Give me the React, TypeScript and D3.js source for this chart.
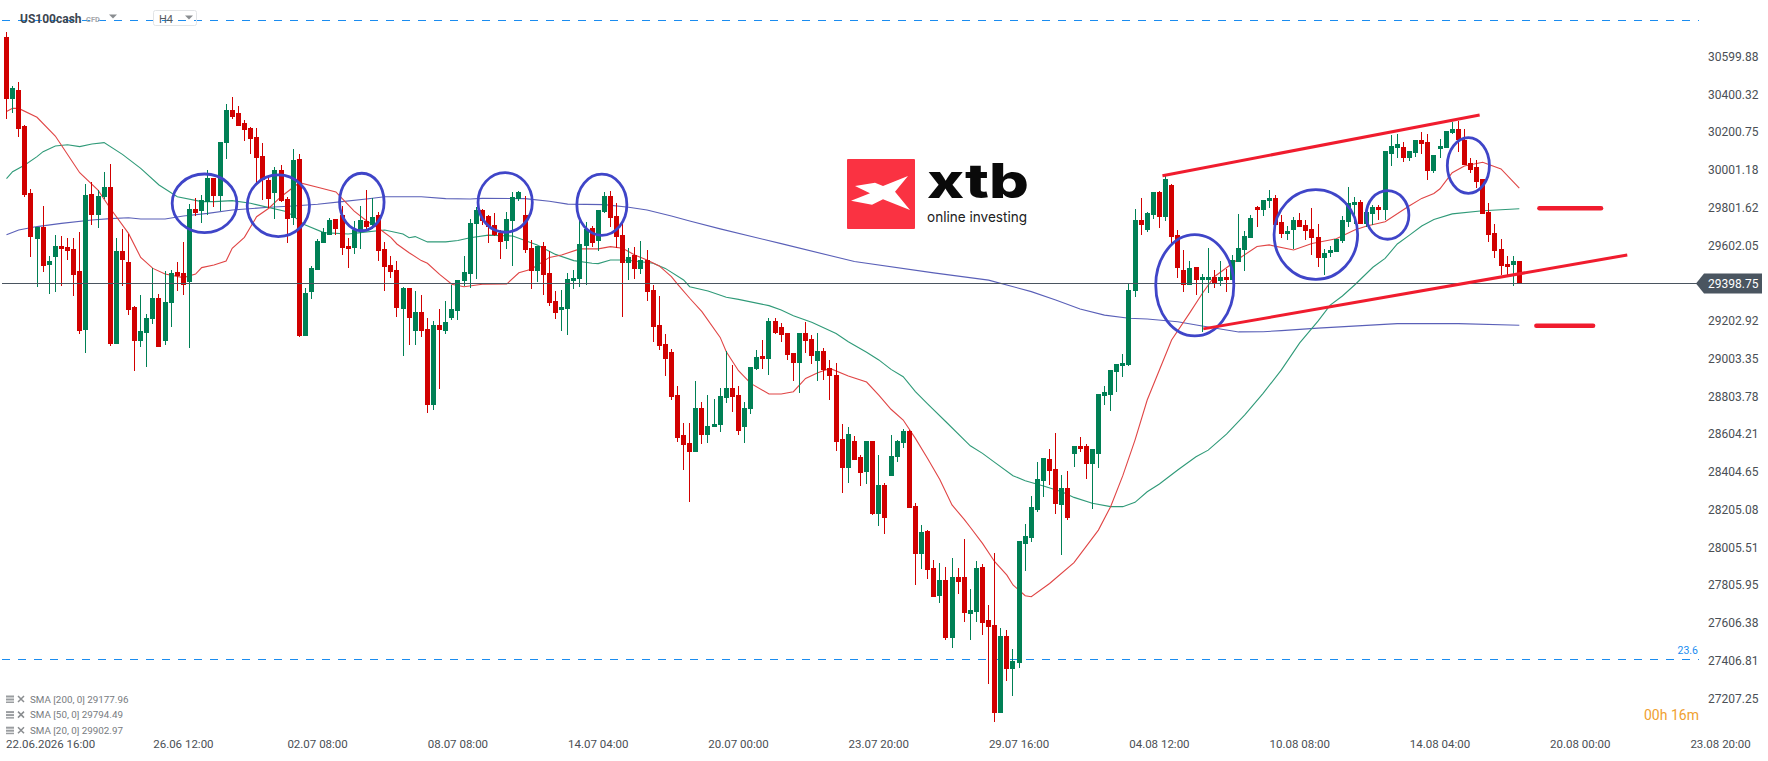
import * as d3 from 'd3';

// H4 candles, one value per candle
const opens = [
  30703,30375,30422,30232,29878,29634,29698,29497,29539,29597,29592,29581,29465,29153,29872,29761,29856,29909,29079,29571,
  29513,29275,29095,29137,29211,29322,29095,29296,29460,29455,29407,29793,29782,29830,29957,29862,30142,30317,30301,30248,
  30221,30174,30073,29946,29878,29999,29846,29745,30057,29121,29354,29470,29613,29655,29740,29761,29597,29587,29682,29730,
  29708,29761,29581,29497,29470,29264,29375,29148,29248,29158,28757,29180,29148,29217,29254,29412,29449,29714,29788,29756,
  29708,29666,29624,29730,29846,29761,29587,29465,29597,29455,29306,29259,29264,29412,29423,29597,29693,29624,29777,29862,
  29756,29656,29507,29550,29476,29523,29365,29180,29079,29037,28810,28598,28556,28508,28741,28598,28640,28651,28794,28846,
  28809,28640,28735,28947,29016,29000,29201,29169,29137,29031,28979,29137,29105,28989,29042,28952,28915,28577,28423,28566,
  28482,28402,28566,28180,28333,28381,28482,28556,28619,28222,27969,28090,27895,27746,27831,27524,27847,27847,27651,27662,
  27900,27620,27593,27128,27535,27360,27392,28022,28053,28201,28355,28471,28418,28228,28318,28497,28540,28540,28445,28497,
  28804,28809,28931,28963,28968,29359,29735,29682,29761,29883,29751,29920,29655,29470,29391,29486,29418,29418,29433,29412,
  29433,29418,29513,29576,29640,29804,29788,29835,29851,29724,29661,29682,29735,29708,29687,29645,29534,29560,29566,29624,
  29724,29814,29830,29714,29767,29804,29788,30084,30116,30121,30063,30089,30158,30147,29994,30110,30116,30195,30216,30158,
  30036,30015,29952,29777,29666,29581,29502,29497,29518,
];
const highs = [
  30727,30443,30465,30237,29899,29698,29809,29544,29655,29650,29640,29640,29671,29925,29936,29894,29989,30031,29640,29687,
  29661,29280,29338,29238,29481,29344,29465,29470,29513,29618,29819,29851,29867,29999,29957,30147,30348,30385,30338,30264,
  30227,30221,30142,29973,30015,30026,29856,30110,30084,29375,29492,29634,29693,29745,29740,29809,29640,29730,29809,29894,
  29851,29777,29619,29545,29518,29381,29375,29359,29338,29217,29201,29264,29306,29391,29418,29545,29740,29804,29793,29761,
  29772,29682,29777,29883,29888,29862,29629,29597,29619,29571,29359,29365,29455,29470,29746,29724,29703,29788,29883,29888,
  29825,29719,29587,29592,29624,29576,29391,29333,29132,29053,28857,28661,28661,28883,28772,28809,28788,28846,29042,28968,
  28857,28772,28957,29047,29100,29217,29217,29190,29137,29031,29137,29195,29127,29137,29058,28994,28979,28656,28640,28593,
  28492,28566,28566,28492,28344,28598,28571,28630,28624,28238,28122,28096,27937,27921,27900,27947,27895,28048,27783,27931,
  27916,27699,27974,27577,27567,27466,28037,28127,28275,28455,28476,28524,28609,28386,28408,28540,28587,28550,28524,28815,
  28857,28942,28973,29026,29396,29793,29851,29777,29883,29888,29973,29925,29682,29576,29518,29486,29449,29587,29470,29518,
  29476,29550,29767,29677,29761,29809,29841,29894,29867,29761,29703,29751,29772,29735,29798,29714,29581,29597,29634,29756,
  29909,29857,29841,29777,29814,29814,30100,30184,30190,30147,30100,30158,30200,30190,30079,30163,30205,30253,30258,30216,
  30063,30052,29952,29825,29714,29634,29544,29544,29518,
];
const lows = [
  30269,30302,30174,29856,29539,29381,29460,29344,29354,29386,29523,29333,29132,29032,29708,29693,29846,29070,29079,29386,
  29232,28936,29063,28958,29185,29063,29074,29169,29359,29338,29058,29756,29719,29761,29804,29782,30057,30269,30232,30153,
  30084,29925,29841,29798,29740,29830,29613,29708,29116,29121,29317,29470,29613,29655,29655,29550,29481,29555,29582,29682,
  29687,29518,29359,29428,29222,29016,29074,29074,29116,28714,28730,28841,29132,29206,29206,29386,29375,29423,29708,29613,
  29650,29529,29582,29492,29835,29560,29370,29407,29338,29280,29211,29148,29127,29370,29381,29391,29592,29571,29772,29698,
  29587,29222,29418,29423,29449,29306,29090,29047,28910,28783,28561,28413,28244,28508,28550,28556,28640,28614,28767,28719,
  28598,28556,28709,28942,28947,28915,29132,29090,28994,28883,28820,29031,28973,28883,28889,28783,28513,28291,28344,28466,
  28328,28339,28175,28117,28074,28381,28455,28529,28212,27805,27889,27836,27741,27709,27514,27471,27757,27609,27514,27609,
  27540,27281,27080,27128,27297,27218,27366,27879,28032,28191,28270,28334,28180,27963,28148,28429,28508,28365,28207,28423,
  28757,28725,28825,28905,28963,29328,29655,29671,29740,29693,29730,29603,29428,29354,29391,29338,29143,29349,29375,29386,
  29354,29418,29513,29465,29640,29698,29756,29798,29708,29640,29629,29581,29698,29629,29550,29486,29444,29539,29566,29613,
  29698,29714,29714,29698,29708,29735,29735,30020,30063,30042,30047,30068,30084,29946,29983,30063,30116,30190,30094,30026,
  29983,29904,29767,29619,29534,29444,29444,29386,29398.75,
];
const closes = [
  30375,30433,30216,29867,29645,29698,29492,29518,29597,29581,29571,29444,29148,29867,29761,29862,29909,29079,29571,29523,
  29259,29095,29148,29217,29322,29063,29301,29455,29439,29391,29793,29772,29841,29957,29862,30147,30317,30280,30232,30211,
  30163,30063,29946,29846,29999,29835,29740,30052,29121,29349,29481,29624,29671,29735,29687,29587,29581,29682,29735,29698,
  29751,29571,29486,29460,29270,29375,29217,29248,29148,28757,29180,29153,29195,29264,29418,29460,29719,29788,29730,29698,
  29656,29619,29740,29856,29883,29576,29465,29597,29444,29296,29243,29275,29423,29428,29608,29687,29613,29788,29862,29746,
  29645,29507,29539,29476,29523,29354,29169,29069,29000,28799,28582,28545,28508,28741,28598,28645,28656,28804,28846,28799,
  28619,28741,28957,29010,29000,29201,29137,29127,29021,28979,29137,29095,29016,29042,28942,28910,28561,28423,28603,28466,
  28397,28566,28180,28333,28159,28487,28566,28619,28212,27969,28085,27884,27741,27831,27524,27847,27820,27656,27672,27895,
  27604,27583,27128,27535,27360,27403,28037,28064,28217,28365,28476,28408,28233,28318,28159,28540,28524,28445,28524,28815,
  28825,28942,28973,28979,29365,29735,29708,29772,29883,29751,29952,29645,29481,29391,29481,29418,29433,29433,29402,29433,
  29418,29523,29587,29650,29745,29788,29841,29851,29708,29661,29677,29735,29698,29677,29640,29534,29560,29576,29634,29735,
  29825,29830,29714,29777,29804,29788,30100,30126,30137,30063,30100,30158,30137,29994,30079,30126,30205,30216,30158,30026,
  29999,29936,29767,29656,29571,29492,29486,29518,29398.75,
];

// moving averages at these candle numbers
const sma20Index = [0,1,2,5,8,12,15,17,20,22,24,26,29,31,32,34,36,37,39,41,43,45,48,51,54,55,57,59,61,63,64,66,68,69,71,73,75,78,82,84,86,89,91,94,97,99,101,103,105,107,109,110,112,114,117,118,120,122,125,127,129,131,133,135,138,141,143,145,147,149,151,153,155,157,158,160,162,164,165,167,168,171,175,179,181,183,185,187,189,191,194,196,198,202,205,207,211,214,218,221,223,226,230,232,234,235,237,239,242,245,248];
const sma20Values = [30308,30325,30325,30278,30179,29985,29893,29797,29664,29537,29479,29449,29430,29449,29483,29497,29518,29585,29643,29752,29797,29858,29932,29908,29883,29849,29782,29731,29691,29643,29608,29562,29520,29506,29447,29395,29382,29395,29396,29456,29474,29537,29550,29582,29582,29594,29585,29550,29523,29492,29435,29396,29321,29250,29114,29038,28938,28871,28815,28815,28827,28897,28927,28950,28910,28878,28809,28734,28677,28580,28474,28363,28228,28152,28110,28025,27928,27857,27805,27748,27743,27813,27923,28095,28219,28383,28571,28783,28942,29100,29245,29345,29435,29530,29595,29603,29576,29611,29636,29682,29703,29726,29810,29849,29875,29900,29985,30020,30040,30005,29902.97];

const sma50Index = [0,1,3,5,6,8,10,12,14,16,19,22,25,28,32,34,37,40,46,49,52,56,58,62,65,66,67,69,72,74,76,79,83,87,90,93,96,97,99,101,103,106,108,111,112,115,118,120,125,127,129,132,136,138,141,143,145,147,149,151,154,158,160,162,165,167,170,173,175,178,181,183,185,187,189,192,195,197,200,203,206,209,212,215,217,219,221,224,226,228,230,232,234,237,242,248];
const sma50Values = [29953,29990,30026,30070,30096,30126,30133,30123,30137,30144,30082,30008,29920,29858,29832,29832,29837,29823,29779,29708,29668,29661,29668,29682,29661,29641,29647,29619,29619,29626,29641,29655,29650,29603,29553,29520,29506,29504,29523,29523,29518,29506,29479,29418,29382,29359,29326,29315,29282,29259,29229,29194,29135,29091,29035,28995,28945,28906,28827,28762,28668,28541,28501,28453,28383,28356,28328,28298,28268,28237,28219,28219,28242,28298,28339,28413,28483,28518,28603,28704,28818,28942,29085,29200,29285,29333,29391,29485,29532,29608,29655,29703,29738,29767,29784,29794.49];

const sma200Index = [0,2,5,9,14,17,20,22,26,29,33,37,43,47,51,55,59,62,68,72,76,78,85,89,92,98,102,105,109,112,117,127,139,152,161,168,172,176,180,184,187,192,196,202,206,209,215,228,238,248];
const sma200Values = [29657,29682,29700,29717,29735,29742,29747,29740,29740,29756,29770,29788,29802,29809,29818,29832,29846,29858,29858,29848,29846,29849,29848,29834,29819,29816,29802,29788,29756,29730,29688,29610,29515,29455,29417,29356,29312,29264,29232,29215,29211,29197,29174,29143,29144,29150,29163,29187,29187,29177.96];

// price axis and the last price
const priceTicks = [30599.88,30400.32,30200.75,30001.18,29801.62,29602.05,29202.92,29003.35,28803.78,28604.21,28404.65,28205.08,28005.51,27805.95,27606.38,27406.81,27207.25];
const lastPrice = 29398.75;
const fibPrices = [30791, 27410];

// time axis
const timeIndex = [29,51,74,97,120,143,166,189,212,235,258,281];
const timeLabels = ['26.06 12:00','02.07 08:00','08.07 08:00','14.07 04:00','20.07 00:00','23.07 20:00','29.07 16:00','04.08 12:00','10.08 08:00','14.08 04:00','20.08 00:00','23.08 20:00'];

// hand drawn annotations: from index/price to index/price
const circleLeft = [27.16,39.46,54.6,77.3,93.5,188.4,207.8,222.9,236.2];
const circleRight = [37.77,49.67,61.9,86.2,101.7,201.2,221.5,229.9,243.1];
const circleTop = [29978,29973,29982,29985,29977,29657,29895,29890,30170];
const circleBottom = [29668,29647,29678,29670,29654,29122,29421,29633,29876];

const channelUpper = [[189.5,29969],[241.5,30290]];
const channelLower = [[196.2,29159],[265.7,29550]];
const targetUpper = [[251.3,29797],[261.4,29797]];
const targetLower = [[250.8,29175],[260.1,29175]];

const legendLabels = ['SMA [200, 0] 29177.96','SMA [50, 0] 29794.49','SMA [20, 0] 29902.97'];

const RED = '#d10000';
const GREEN = '#008055';
const FONT = 'Roboto, sans-serif';

export default function App() {
  const x = d3.scaleLinear().domain([0, 248]).range([6.5, 1519.3]);
  const y = d3.scaleLinear().domain([30599.88, 27207.25]).range([56.4, 698]);

  const smaLine = (idx: number[], vals: number[]) =>
    d3.line<number>().x((_, k) => x(idx[k])).y(d => y(d))(vals) ?? '';
  const trend = d3.line<number[]>().x(d => x(d[0])).y(d => y(d[1]));

  const logoX = 881;
  const logoY = 194;
  const logoStar = [[-26,-8],[-6,-11.3],[2,-8],[27,-18],[14,-2.3],[29,16],[2,5.3],[-9,10.7],[-30,6.7],[-11,-0.7]];

  return (
    <svg width={1768} height={761} style={{ position: 'absolute', left: 0, top: 0, background: '#fff', fontFamily: FONT }}>
      {fibPrices.map(p => (
        <line key={p} x1={2} x2={1699} y1={Math.floor(y(p)) + 0.5} y2={Math.floor(y(p)) + 0.5}
          stroke="#1a8cf0" strokeWidth={1} strokeDasharray="8 8" />
      ))}

      <path d={smaLine(sma200Index, sma200Values)} fill="none" stroke="#5a60b8" strokeWidth={1.1} />
      <path d={smaLine(sma50Index, sma50Values)} fill="none" stroke="#2f9a78" strokeWidth={1.1} />
      <path d={smaLine(sma20Index, sma20Values)} fill="none" stroke="#e04545" strokeWidth={1.1} />

      <g shapeRendering="crispEdges">
        {opens.map((o, i) => {
          const c = closes[i];
          const color = c >= o ? GREEN : RED;
          const cx = Math.floor(x(i)) + 0.5;
          const top = Math.round(y(Math.max(o, c)));
          const bottom = Math.round(y(Math.min(o, c)));
          return (
            <g key={i} fill={color}>
              <rect x={cx - 0.5} width={1} y={y(highs[i])} height={y(lows[i]) - y(highs[i])} />
              <rect x={cx - 2.5} width={5} y={top} height={Math.max(bottom - top, 1)} />
            </g>
          );
        })}
      </g>

      <line x1={2} x2={1697} y1={Math.floor(y(lastPrice)) + 0.5} y2={Math.floor(y(lastPrice)) + 0.5} stroke="#4a5560" strokeWidth={1} />

      {circleLeft.map((l, k) => {
        const r = x(circleRight[k]);
        const t = y(circleTop[k]);
        const b = y(circleBottom[k]);
        return (
          <ellipse key={k} cx={(x(l) + r) / 2} cy={(t + b) / 2} rx={(r - x(l)) / 2} ry={(b - t) / 2}
            fill="none" stroke="#3f45c8" strokeWidth={2.8} />
        );
      })}

      {[channelUpper, channelLower].map((d, k) => (
        <path key={k} d={trend(d) ?? ''} fill="none" stroke="#f01c2e" strokeWidth={3} />
      ))}
      {[targetUpper, targetLower].map((d, k) => (
        <path key={k} d={trend(d) ?? ''} fill="none" stroke="#f01c2e" strokeWidth={4.5} strokeLinecap="round" />
      ))}

      {/* logo */}
      <rect x={847} y={159} width={68} height={70} rx={1} fill="#fa3242" />
      <polygon points={logoStar.map(p => `${logoX + p[0]},${logoY + p[1]}`).join(' ')} fill="#fff" />
      <text x={927} y={198} fontFamily="Inter, sans-serif" fontWeight={800} fontSize={48} fill="#0a0a0a"
        textLength={102} lengthAdjust="spacingAndGlyphs">xtb</text>
      <text x={927} y={222} fontFamily="Inter, sans-serif" fontWeight={400} fontSize={14.5} fill="#222"
        textLength={100} lengthAdjust="spacingAndGlyphs">online investing</text>

      {/* price axis */}
      {priceTicks.map(p => (
        <text key={p} x={1708} y={y(p) + 4.5} fontSize={12} fill="#4a4f55">{p.toFixed(2)}</text>
      ))}
      <path d={`M1696 ${y(lastPrice)} L1704 ${y(lastPrice) - 10} H1762 V${y(lastPrice) + 10} H1704 Z`} fill="#4a5560" />
      <text x={1708} y={y(lastPrice) + 4.5} fontSize={12} fill="#fff">{lastPrice.toFixed(2)}</text>
      <text x={1698} y={654} textAnchor="end" fontSize={10.5} fill="#1a8cf0">23.6</text>

      {/* time axis */}
      <text x={6} y={748} fontSize={11.5} fill="#4a4f55">22.06.2026 16:00</text>
      {timeIndex.map((t, k) => (
        <text key={t} x={x(t)} y={748} textAnchor="middle" fontSize={11.5} fill="#4a4f55">{timeLabels[k]}</text>
      ))}

      {/* header */}
      <text x={20} y={23} fontSize={12} fontWeight={700} fill="#3c4650">US100cash</text>
      <text x={86} y={22} fontSize={7.5} fontWeight={700} fill="#a5a8ab">CFD</text>
      <path d="M109 14.5h8l-4 4z" fill="#8a8d90" />
      <rect x={153.5} y={10.5} width={43} height={15} rx={2} fill="none" stroke="#e2e4e6" />
      <text x={159} y={23} fontSize={11} fill="#55595e">H4</text>
      <path d="M185 15.5h8l-4 4z" fill="#8a8d90" />

      {/* indicator legend */}
      {legendLabels.map((label, k) => (
        <g key={label} transform={`translate(6,${699 + k * 15.6})`}>
          <rect x={0} y={-3.5} width={8} height={2} fill="#9a9da0" />
          <rect x={0} y={-0.5} width={8} height={2} fill="#9a9da0" />
          <rect x={0} y={2.5} width={8} height={1.5} fill="#9a9da0" />
          <path d="M12 -3l6 6M18 -3l-6 6" stroke="#8a8d90" strokeWidth={1.5} />
          <text x={24} y={3.5} fontSize={9.8} fill="#777b80">{label}</text>
        </g>
      ))}
      <text x={1644} y={720} fontSize={14} fill="#f0a030">00h 16m</text>
    </svg>
  );
}
